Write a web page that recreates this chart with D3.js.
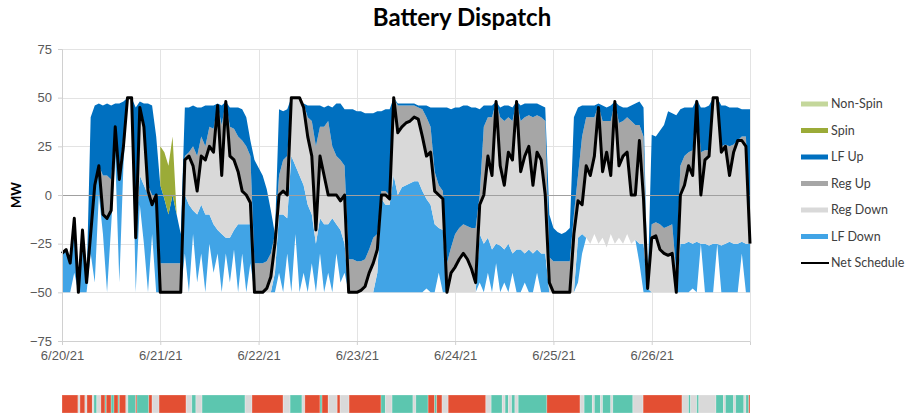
<!DOCTYPE html>
<html lang="en">
<head>
<meta charset="utf-8">
<title>Battery Dispatch</title>
<script src="https://cdn.jsdelivr.net/npm/d3@7"></script>
<style>
  body { margin: 0; background: #fff; }
  svg { display: block; font-family: Lato, "Open Sans", sans-serif; }
  .tick text { fill: #595959; font-size: 13px; }
  .legend text { fill: #404040; font-size: 12.5px; }
</style>
</head>
<body>
<script>
// hourly values, 6/20/21 00:00 .. 6/27/21 00:00 (MW)
const netSchedule = [
  -30,-28,-35,-12,-50,-18,-45,-20,5,15,-10,-12,-8,35,8,25,50,50,-22,45,35,2,-5,0,
  -50,-50,-50,-50,-50,-50,18,20,15,2,20,18,25,22,46,10,48,20,18,12,2,0,-4,-50,
  -50,-50,-48,-42,-25,0,2,0,50,50,50,45,30,20,-18,20,10,0,0,0,-3,0,-50,-50,
  -50,-49,-47,-40,-35,-28,0,0,-2,50,32,35,37,38,40,39,30,20,22,2,0,-2,-50,-40,
  -37,-33,-30,-33,-38,-45,-5,0,20,10,48,15,5,22,18,48,12,20,25,5,22,18,0,-45,
  -50,-50,-50,-50,-50,-20,-3,-5,15,10,20,45,12,22,10,48,15,20,22,0,0,28,-2,-48,
  -22,-21,-28,-30,-31,-30,-50,0,5,15,10,48,0,18,20,50,50,22,25,10,22,28,28,25,-25
];
const regUp = [
  0,0,0,0,0,0,0,0,0,0,20,22,16,0,4,5,0,0,0,0,3,3,5,0,
  15,15,15,15,15,15,2,2,10,18,10,7,10,12,0,26,0,15,16,18,26,25,24,15,
  15,15,14,12,5,10,16,20,0,0,0,2,10,18,43,15,25,38,25,20,21,15,17,17,
  16,15,14,12,13,8,2,2,2,0,14,11,9,8,6,6,14,20,13,10,5,4,15,13,
  17,16,15,17,21,28,5,35,20,30,0,25,33,18,20,0,26,20,16,35,19,22,38,13,
  16,16,16,16,16,10,13,35,25,30,20,1,26,16,28,0,22,18,18,38,36,8,32,0,
  7,7,13,13,15,15,10,15,15,7,13,0,22,5,3,0,0,3,1,15,4,0,2,5,5
];
const lfUp = [
  0,0,0,0,0,0,0,60,41,32,36,37,38,12,35,18,0,0,67,3,9,42,46,30,
  40,33,25,35,25,15,25,23,21,25,15,21,11,12,1,10,0,10,11,15,16,15,8,53,
  49,45,37,22,0,34,25,24,0,0,0,0,6,8,21,11,10,8,20,27,29,29,77,77,
  77,77,75,70,64,63,41,42,44,0,1,1,1,1,1,1,2,6,10,33,40,43,80,71,
  65,62,61,62,62,62,44,11,6,6,0,5,8,6,7,0,8,7,6,7,6,6,7,22,
  17,15,14,15,17,50,35,16,6,6,6,1,8,7,8,0,9,7,5,8,11,12,15,0,
  46,44,48,53,59,57,81,29,25,23,22,1,23,22,23,0,0,21,20,20,19,17,14,14,64
];
const regDown = [
  0,0,0,0,0,0,0,0,0,0,0,0,0,0,0,0,0,0,0,35,30,2,0,0,
  0,0,0,0,0,0,18,25,23,12,25,28,35,37,64,30,70,42,36,27,17,15,11,0,
  0,0,2,8,15,10,12,12,30,35,40,40,35,30,7,32,25,15,12,15,15,25,0,0,
  0,1,3,10,15,12,2,5,3,40,32,31,32,32,33,32,28,22,27,17,17,16,0,10,
  13,17,20,17,12,5,15,25,42,38,73,41,33,47,48,76,40,50,53,35,50,48,30,5,
  0,0,0,0,0,30,19,15,37,35,40,70,34,49,30,73,37,45,42,25,23,53,23,0,
  28,29,22,20,19,20,0,25,30,39,35,72,25,43,46,75,75,48,50,34,47,53,52,50,0
];
const lfDown = [
  20,22,15,28,0,32,5,10,50,15,10,38,8,15,53,10,0,0,28,15,30,50,15,50,
  0,0,0,0,0,0,30,45,12,35,25,40,15,25,12,30,8,23,10,35,15,35,20,0,
  0,0,0,0,10,30,40,18,70,35,60,45,45,25,25,18,35,25,38,15,27,15,0,0,
  0,0,0,0,0,10,48,45,45,60,50,54,55,56,57,57,52,46,45,35,23,32,0,0,
  0,0,0,0,0,0,25,25,18,22,10,24,17,25,10,22,22,15,22,20,12,20,20,0,
  0,0,0,0,0,0,23,10,0,0,0,0,0,0,0,0,0,0,0,0,0,10,25,2,
  0,0,0,0,0,0,0,25,25,26,23,26,0,25,24,25,0,24,25,26,25,25,6,25,25
];
// spin only shows up early on 6/21
const spinHours = [24, 25, 26, 27, 28];
const spinValues = [20, 24, 25, 30, 0];

const yTicks = [-75, -50, -25, 0, 25, 50, 75];
const dayLabels = ["6/20/21", "6/21/21", "6/22/21", "6/23/21", "6/24/21", "6/25/21", "6/26/21"];

const legendNames = ["Non-Spin", "Spin", "LF Up", "Reg Up", "Reg Down", "LF Down", "Net Schedule"];
const legendColors = ["#c4d79b", "#9bab38", "#0070c0", "#a6a6a6", "#d9d9d9", "#41a4e6", "#000"];

// status strip under the chart: break hours and state (R = red, T = teal, G = gray)
const stripBreaks = [0,3.9,4.4,5.6,6.1,7.4,7.8,8.5,9.5,10.5,10.8,12,12.7,13.7,14,15.6,16.1,18,18.3,21.2,22,23.7,
  30.3,31.7,32.7,34.2,44.7,46.4,54,55.7,58.6,59.3,63,63.5,65,67.2,67.9,70.1,77.9,79,80.6,85.7,86.4,89.4,91,91.5,
  92.8,94.3,103.5,104.8,107.5,108.2,109,109.8,110.6,111.4,118.4,126.5,127.5,129.5,130,131.5,132,134,134.5,139.4,
  141.9,151.4,153,153.5,155,155.5,159.7,161.5,162,164,164.5,166.5,167,167.7,168];
const stripStates = "RGRGRGTGRTRTRTRGTRTRGRGTGTGRGTGRTRGRGRTGTGTRTRGRGTGTGTGTRGTGTGTGTGRGTGTGTGTGTGTR";
const stripColors = { R: "#e34f33", T: "#5cc6af", G: "#d9d9d9" };

const W = 914, H = 417;
const svg = d3.select("body").append("svg").attr("width", W).attr("height", H);

const start = new Date(2021, 5, 20);
const x = d3.scaleTime().domain([start, new Date(2021, 5, 27)]).range([62, 750]);
const y = d3.scaleLinear().domain([-75, 75]).range([341, 49]);
const xh = h => x(d3.timeMinute.offset(start, Math.round(h * 60)));

const rows = netSchedule.map((n, i) => {
  const ru = n + regUp[i], lu = ru + lfUp[i];
  const rd = n - regDown[i], ld = rd - lfDown[i];
  return { t: d3.timeHour.offset(start, i), n, ru, lu, rd, ld };
});

// gridlines
const grid = svg.append("g").attr("stroke", "#e3e3e3").attr("stroke-width", 1);
yTicks.forEach(v => grid.append("line").attr("x1", 62).attr("x2", 750)
  .attr("y1", Math.round(y(v)) + 0.5).attr("y2", Math.round(y(v)) + 0.5));
d3.range(8).forEach(d => {
  const xd = Math.round(x(d3.timeDay.offset(start, d))) + 0.5;
  grid.append("line").attr("x1", xd).attr("x2", xd).attr("y1", y(75)).attr("y2", y(-75));
});

// stacked bands
const band = (lo, hi) => d3.area().x(d => x(d.t)).y0(lo).y1(hi);
const plot = svg.append("g");
plot.append("path").datum(rows).attr("fill", "#41a4e6").attr("d", band(d => y(d.ld), d => y(d.rd)));
plot.append("path").datum(rows).attr("fill", "#d9d9d9").attr("d", band(d => y(d.rd), d => y(d.n)));
plot.append("path").datum(rows).attr("fill", "#a6a6a6").attr("d", band(d => y(d.n), d => y(d.ru)));
plot.append("path").datum(rows).attr("fill", "#0070c0").attr("d", band(d => y(d.ru), d => y(d.lu)));

const spinRows = spinHours.map((h, i) => ({ t: rows[h].t, lo: rows[h].lu, hi: rows[h].lu + spinValues[i] }));
plot.append("path").datum(spinRows).attr("fill", "#9bab38").attr("d", band(d => y(d.lo), d => y(d.hi)));

// zero line over the areas
svg.append("line").attr("x1", 62).attr("x2", 750)
  .attr("y1", Math.round(y(0)) + 0.5).attr("y2", Math.round(y(0)) + 0.5)
  .attr("stroke", "#a0a0a0").attr("stroke-width", 1);

// net schedule
svg.append("path").datum(rows)
  .attr("fill", "none").attr("stroke", "#000").attr("stroke-width", 3)
  .attr("stroke-linejoin", "round")
  .attr("d", d3.line().x(d => x(d.t)).y(d => y(d.n)));

// axes
const yAxis = svg.append("g").attr("transform", "translate(62,0)")
  .call(d3.axisLeft(y).tickValues(yTicks).tickSize(4).tickPadding(6));
const xAxis = svg.append("g").attr("transform", `translate(0,${y(-75)})`)
  .call(d3.axisBottom(x).tickValues(d3.range(7).map(d => d3.timeDay.offset(start, d)))
    .tickFormat((d, i) => dayLabels[i]).tickSize(4).tickPadding(6));
[yAxis, xAxis].forEach(a => {
  a.select(".domain").attr("stroke", "#d0d0d0");
  a.selectAll(".tick line").attr("stroke", "#d0d0d0");
});

svg.append("text").attr("x", 462).attr("y", 26).attr("text-anchor", "middle")
  .attr("font-size", 24).attr("font-weight", "bold").attr("fill", "#000").text("Battery Dispatch");
svg.append("text").attr("transform", "translate(21,195) rotate(-90)").attr("text-anchor", "middle")
  .attr("font-size", 13).attr("font-weight", "bold").attr("fill", "#000").text("MW");

// legend
const legend = svg.append("g").attr("class", "legend");
legendNames.forEach((name, i) => {
  const ly = 104 + i * 26.5;
  if (i < 6) {
    legend.append("rect").attr("x", 801).attr("y", ly - 2.5).attr("width", 27).attr("height", 5)
      .attr("fill", legendColors[i]);
  } else {
    legend.append("line").attr("x1", 801).attr("x2", 829).attr("y1", ly).attr("y2", ly)
      .attr("stroke", legendColors[i]).attr("stroke-width", 2);
  }
  legend.append("text").attr("x", 831).attr("y", ly).attr("dy", "0.35em").text(name);
});

// status strip
const strip = svg.append("g");
stripStates.split("").forEach((s, i) => {
  const x0 = xh(stripBreaks[i]), x1 = xh(stripBreaks[i + 1]);
  strip.append("rect").attr("x", x0).attr("y", 395).attr("width", Math.max(0.5, x1 - x0)).attr("height", 18)
    .attr("fill", stripColors[s]).attr("stroke", "#fff").attr("stroke-opacity", 0.3).attr("stroke-width", 0.8);
});
</script>
</body>
</html>
